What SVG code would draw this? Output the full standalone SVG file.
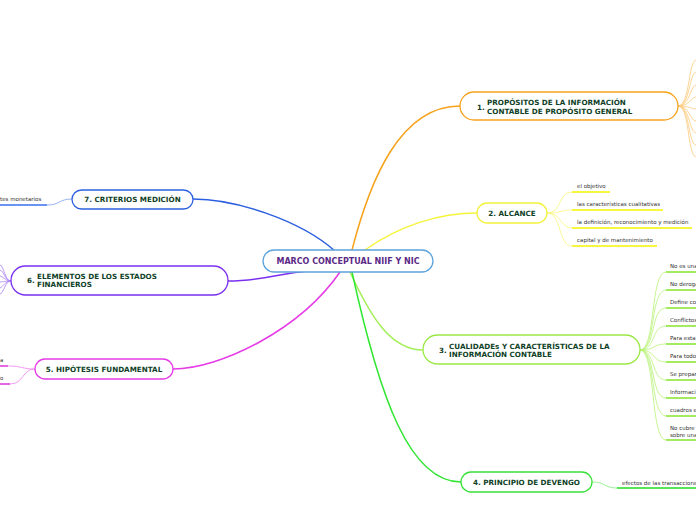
<svg xmlns="http://www.w3.org/2000/svg" width="696" height="520" viewBox="0 0 696 520">
<style>
.nb{fill:#fff;stroke-width:1.3}
.nt{font-family:"DejaVu Sans",Verdana,sans-serif;font-weight:bold;font-size:7.2px;fill:#0f3f27}
.ct{font-family:"DejaVu Sans",Verdana,sans-serif;font-weight:bold;font-size:8px;fill:#5b2a86}
.lt{font-family:"DejaVu Sans",Verdana,sans-serif;font-size:5.5px;fill:#333}
.c{fill:none;stroke-width:1.5}
.f{fill:none;stroke-width:0.8}
.u{fill:none;stroke-width:1.6}
</style>
<rect width="696" height="520" fill="#fff"/>
<g id="connectors">
  <path class="c" stroke="#f7a21b" d="M352,250 C370,180 400,106 460,106"/>
  <path class="c" stroke="#f4f43a" d="M365,250 C400,225 440,213 477,213"/>
  <path class="c" stroke="#a4ee55" d="M350,272 C372,320 392,350 423,350"/>
  <path class="c" stroke="#33e633" d="M352,272 C380,400 410,482 461,482"/>
  <path class="c" stroke="#e63ae6" d="M340,272 C300,330 220,369 173,369"/>
  <path class="c" stroke="#7a2ff0" d="M228,281 C262,281 280,273 310,271"/>
  <path class="c" stroke="#2c5fe0" d="M335,251 C300,220 235,199 193,199"/>
  <g stroke="#fcc97a">
    <path class="f" d="M678,106 C690,106 688,62 696,60"/>
    <path class="f" d="M678,106 C690,106 689,74 696,72"/>
    <path class="f" d="M678,106 C690,106 690,86 696,85"/>
    <path class="f" d="M678,106 C690,106 691,97 696,97"/>
    <path class="f" d="M678,106 C690,106 691,109 696,109"/>
    <path class="f" d="M678,106 C690,106 690,121 696,121"/>
    <path class="f" d="M678,106 C690,106 689,132 696,133"/>
    <path class="f" d="M678,106 C690,106 688,144 696,145"/>
    <path class="f" d="M678,106 C690,106 687,155 696,157"/>
  </g>
  <g stroke="#f7f77a">
    <path class="f" d="M547,213 C562,213 558,192 572,192"/>
    <path class="f" d="M547,213 C562,213 560,210 572,210"/>
    <path class="f" d="M547,213 C562,213 560,228 572,228"/>
    <path class="f" d="M547,213 C562,213 558,246 572,246"/>
  </g>
  <g stroke="#f5f500">
    <path class="u" d="M572,192 H610"/>
    <path class="u" d="M572,210 H663"/>
    <path class="u" d="M572,228 H692"/>
    <path class="u" d="M572,246 H657"/>
  </g>
  <g stroke="#b9f27a">
    <path class="f" d="M640,350 C656,350 650,272 666,272"/>
    <path class="f" d="M640,350 C656,350 650,290 666,290"/>
    <path class="f" d="M640,350 C656,350 650,308 666,308"/>
    <path class="f" d="M640,350 C656,350 651,326 666,326"/>
    <path class="f" d="M640,350 C656,350 652,344 666,344"/>
    <path class="f" d="M640,350 C656,350 652,362 666,362"/>
    <path class="f" d="M640,350 C656,350 651,380 666,380"/>
    <path class="f" d="M640,350 C656,350 650,398 666,398"/>
    <path class="f" d="M640,350 C656,350 650,416 666,416"/>
    <path class="f" d="M640,350 C656,350 650,440 666,440"/>
  </g>
  <g stroke="#8fe636">
    <path class="u" d="M666,272 H696"/>
    <path class="u" d="M666,290 H696"/>
    <path class="u" d="M666,308 H696"/>
    <path class="u" d="M666,326 H696"/>
    <path class="u" d="M666,344 H696"/>
    <path class="u" d="M666,362 H696"/>
    <path class="u" d="M666,380 H696"/>
    <path class="u" d="M666,398 H696"/>
    <path class="u" d="M666,416 H696"/>
    <path class="u" d="M666,440 H696"/>
  </g>
  <path class="f" stroke="#80ee80" d="M592,482 C606,482 604,488 617,488"/>
  <path class="u" stroke="#22dd22" d="M617,488 H696"/>
  <path class="f" stroke="#f080f0" d="M35,369 C22,369 22,366 8,366"/>
  <path class="f" stroke="#f080f0" d="M35,369 C22,369 24,384 10,384"/>
  <path class="u" stroke="#e040e0" d="M0,366 H8"/>
  <path class="u" stroke="#e040e0" d="M0,384 H10"/>
  <g stroke="#a982f5">
    <path class="f" d="M11,281 C5,281 4,266 0,265"/>
    <path class="f" d="M11,281 C5,281 4,271 0,270"/>
    <path class="f" d="M11,281 C5,281 3,276 0,276"/>
    <path class="f" d="M11,281 C5,281 3,282 0,282"/>
    <path class="f" d="M11,281 C5,281 3,287 0,288"/>
    <path class="f" d="M11,281 C5,281 4,293 0,294"/>
  </g>
  <path class="f" stroke="#7fa0f0" d="M72,199 C59,199 60,205 47,205"/>
  <path class="u" stroke="#3a6ff0" d="M0,205 H47"/>
</g>
<g id="center">
  <rect class="nb" x="263" y="250" width="170" height="22" rx="11" stroke="#5ba3dc"/>
  <text class="ct" x="348" y="264" text-anchor="middle">MARCO CONCEPTUAL NIIF Y NIC</text>
</g>
<g id="n1">
  <rect class="nb" x="460" y="92" width="218" height="28" rx="14" stroke="#f7a21b"/>
  <text class="nt" x="477" y="110">1.</text>
  <text class="nt" x="487" y="105">PROPÓSITOS DE LA INFORMACIÓN</text>
  <text class="nt" x="487" y="114">CONTABLE DE PROPÓSITO GENERAL</text>
</g>
<g id="n2">
  <rect class="nb" x="477" y="203" width="70" height="20" rx="10" stroke="#f2f23a"/>
  <text class="nt" x="512" y="215.5" text-anchor="middle">2. ALCANCE</text>
  <text class="lt" x="577" y="188">el objetivo</text>
  <text class="lt" x="577" y="206">las características cualitativas</text>
  <text class="lt" x="577" y="224">la definición, reconocimiento y medición</text>
  <text class="lt" x="577" y="242">capital y de mantenimiento</text>
</g>
<g id="n3">
  <rect class="nb" x="423" y="335" width="217" height="29" rx="14.5" stroke="#9be845"/>
  <text class="nt" x="439" y="353">3.</text>
  <text class="nt" x="449" y="348.5">CUALIDADEs Y CARACTERÍSTICAS DE LA</text>
  <text class="nt" x="449" y="357">INFORMACIÓN CONTABLE</text>
  <text class="lt" x="670" y="268">No es una</text>
  <text class="lt" x="670" y="286">No deroga</text>
  <text class="lt" x="670" y="304">Define co</text>
  <text class="lt" x="670" y="322">Conflictos</text>
  <text class="lt" x="670" y="340">Para esta</text>
  <text class="lt" x="670" y="358">Para todo</text>
  <text class="lt" x="670" y="376">Se prepar</text>
  <text class="lt" x="670" y="394">Informaci</text>
  <text class="lt" x="670" y="412">cuadros e</text>
  <text class="lt" x="670" y="430">No cubre</text>
  <text class="lt" x="670" y="436.5">sobre una</text>
</g>
<g id="n4">
  <rect class="nb" x="461" y="472" width="131" height="20" rx="10" stroke="#3ae03a"/>
  <text class="nt" x="526.5" y="484.5" text-anchor="middle">4. PRINCIPIO DE DEVENGO</text>
  <text class="lt" x="622" y="484.5">efectos de las transaccione</text>
</g>
<g id="n5">
  <rect class="nb" x="35" y="359" width="138" height="20" rx="10" stroke="#e63ae6"/>
  <text class="nt" x="104" y="371.5" text-anchor="middle">5. HIPÓTESIS FUNDAMENTAL</text>
  <text class="lt" x="0" y="362">a</text>
  <text class="lt" x="0" y="380">o</text>
</g>
<g id="n6">
  <rect class="nb" x="11" y="266" width="217" height="29" rx="14.5" stroke="#7a2ff0"/>
  <text class="nt" x="27" y="283">6.</text>
  <text class="nt" x="37" y="278.5">ELEMENTOS DE LOS ESTADOS</text>
  <text class="nt" x="37" y="287">FINANCIEROS</text>
</g>
<g id="n7">
  <rect class="nb" x="72" y="190" width="121" height="19" rx="9.5" stroke="#2c5fe0"/>
  <text class="nt" x="132.5" y="202" text-anchor="middle">7. CRITERIOS MEDICIÓN</text>
  <text class="lt" x="0" y="201">tes monetarios</text>
</g>
</svg>
